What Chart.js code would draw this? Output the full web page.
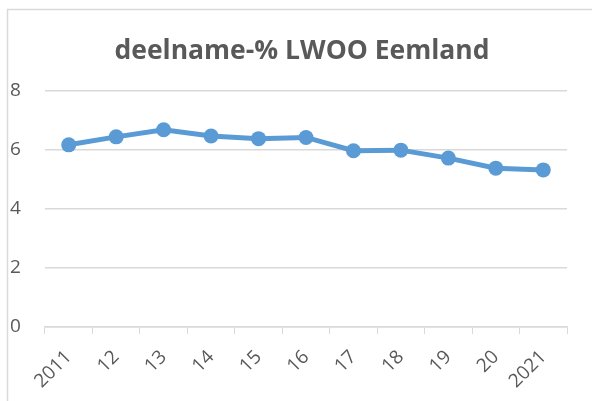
<!DOCTYPE html>
<html>
<head>
<meta charset="utf-8">
<script src="https://cdn.jsdelivr.net/npm/chart.js@4.4.0/dist/chart.umd.min.js"></script>
<style>
  html, body { margin: 0; padding: 0; background: #fff; }
  #wrap { width: 592px; height: 401px; position: relative; }
</style>
</head>
<body>
<div id="wrap"><canvas id="lineChart" width="592" height="401"></canvas></div>
<script>
var years = ['2011', '12', '13', '14', '15', '16', '17', '18', '19', '20', '2021'];
var deelname = [6.17, 6.44, 6.68, 6.47, 6.38, 6.42, 5.97, 5.99, 5.72, 5.38, 5.32];
var yTicks = [0, 2, 4, 6, 8];

var textColor = '#595959';
var gridColor = '#d9d9d9';

// rand van het grafiekvak (boven en links), titel iets naar rechts
var frame = {
    id: 'frame',
    afterLayout: function (chart) {
        if (chart.titleBlock) {
            chart.titleBlock.left = 37;
            chart.titleBlock.right = 567;
        }
    },
    beforeDraw: function (chart) {
        var c = chart.ctx;
        c.save();
        c.strokeStyle = gridColor;
        c.lineWidth = 1.5;
        c.beginPath();
        c.moveTo(7.5, chart.height);
        c.lineTo(7.5, 9.5);
        c.lineTo(chart.width, 9.5);
        c.stroke();
        c.restore();
    }
};

var ctx = document.getElementById('lineChart');
var lineChart = new Chart(ctx, {
    type: 'line',
    data: {
        labels: years,
        datasets: [{
            label: 'deelname-%',
            data: deelname,
            borderColor: '#5b9bd5',
            backgroundColor: '#5b9bd5',
            borderWidth: 5,
            pointRadius: 7.5,
            pointHoverRadius: 7.5,
            pointBorderWidth: 0,
            tension: 0
        }]
    },
    plugins: [frame],
    options: {
        responsive: false,
        animation: false,
        layout: { padding: { left: 10, right: 25, top: 0, bottom: 0 } },
        plugins: {
            legend: { display: false },
            tooltip: { enabled: false },
            title: {
                display: true,
                text: 'deelname-% LWOO Eemland',
                color: textColor,
                font: { family: 'Open Sans', size: 26.5, weight: 'bold', lineHeight: 1.2 },
                padding: { top: 36, bottom: 23 }
            }
        },
        scales: {
            x: {
                offset: true,
                grid: {
                    display: true,
                    offset: true,
                    drawOnChartArea: false,
                    drawTicks: true,
                    tickLength: 7,
                    color: gridColor
                },
                border: { display: true, color: gridColor, width: 1.5 },
                ticks: {
                    color: textColor,
                    font: { family: 'Open Sans', size: 19 },
                    minRotation: 45,
                    maxRotation: 45,
                    padding: 12
                },
                afterFit: function (scale) { scale.height = 74; }
            },
            y: {
                min: 0,
                max: 8,
                afterBuildTicks: function (scale) {
                    scale.ticks = yTicks.map(function (v) { return { value: v }; });
                },
                grid: { color: gridColor, lineWidth: 1.5, drawTicks: false },
                border: { display: false },
                ticks: {
                    color: textColor,
                    font: { family: 'Open Sans', size: 19 },
                    crossAlign: 'far',
                    padding: 0
                },
                afterFit: function (scale) { scale.width = 35; }
            }
        }
    }
});
</script>
</body>
</html>
